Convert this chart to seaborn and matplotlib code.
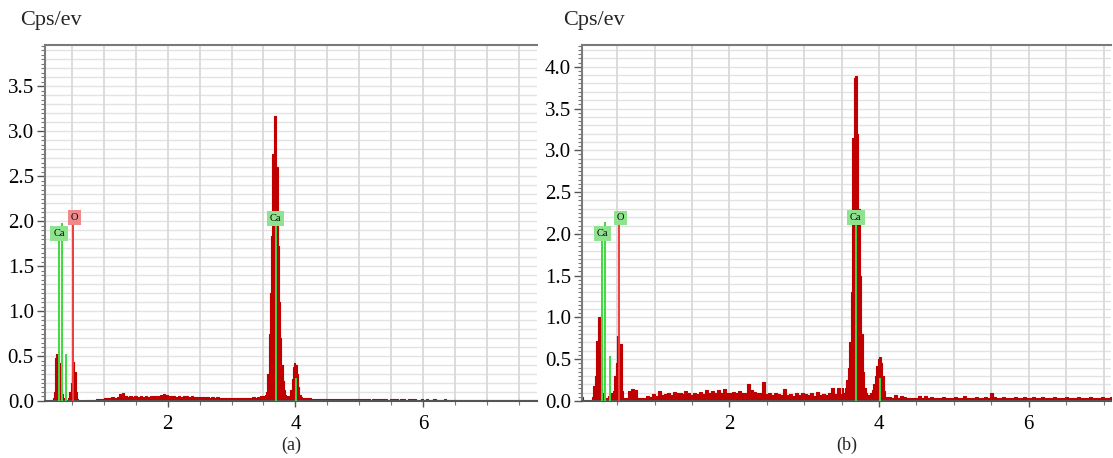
import numpy as np
import pandas as pd
import matplotlib
matplotlib.use("Agg")
import matplotlib.pyplot as plt
import seaborn as sns
from matplotlib.ticker import MultipleLocator, FormatStrFormatter

# ---------------- data: EDS spectra, counts per eV in segments (start keV, bin width keV, values)
# panel (a)
a_seg1_start, a_seg1_step = 0.08, 0.02
a_seg1 = [0.0, 0.0, 0.0, 0.0, 0.0, 0.01, 0.03, 0.10, 0.48, 0.52, 0.50, 0.42, 0.12,
          0.08, 0.03, 0.0, 0.0, 0.01, 0.03, 0.10, 0.20, 0.28, 0.43, 0.32, 0.10, 0.02]
a_seg2_start, a_seg2_step = 0.60, 0.04
a_seg2 = [0.0, 0.0, 0.005, 0.008, 0.01, 0.012, 0.015, 0.02, 0.022, 0.025,
          0.03, 0.035, 0.03, 0.04, 0.035, 0.045, 0.08, 0.09, 0.06, 0.045,
          0.05, 0.04, 0.05, 0.045, 0.05, 0.045, 0.05, 0.04, 0.05, 0.055,
          0.05, 0.06, 0.065, 0.075, 0.07, 0.055, 0.05, 0.05, 0.045, 0.05,
          0.045, 0.05, 0.055, 0.045, 0.05, 0.045, 0.04, 0.045, 0.04, 0.045,
          0.04, 0.035, 0.04, 0.035, 0.04, 0.035, 0.03, 0.035, 0.03, 0.035,
          0.03, 0.035, 0.03, 0.035, 0.03, 0.035, 0.03, 0.035, 0.04, 0.035,
          0.04, 0.05]
a_seg3_start, a_seg3_step = 3.48, 0.02
a_seg3 = [0.05, 0.06, 0.07, 0.10, 0.30, 0.75, 1.20, 1.83, 2.75, 3.17, 3.17, 2.60,
          1.72, 1.10, 0.70, 0.40, 0.22, 0.12, 0.07, 0.05, 0.04, 0.06, 0.12, 0.25,
          0.38, 0.42, 0.40, 0.30, 0.15, 0.07, 0.04, 0.035]
a_seg4_start, a_seg4_step = 4.12, 0.04
a_seg4 = [0.03, 0.028, 0.03, 0.025, 0.022, 0.025, 0.02, 0.022, 0.02, 0.018,
          0.02, 0.018, 0.02, 0.022, 0.018, 0.02, 0.017, 0.02, 0.018, 0.02,
          0.022, 0.018, 0.02, 0.017, 0.02, 0.018, 0.016, 0.02, 0.018, 0.017,
          0.02, 0.017, 0.018, 0.016, 0.02, 0.018, 0.017, 0.016, 0.018, 0.017,
          0.016, 0.018, 0.02, 0.017, 0.016, 0.015, 0.017, 0.016, 0.018, 0.016,
          0.015, 0.017, 0.016, 0.015, 0.016, 0.017, 0.015, 0.016, 0.015, 0.016,
          0.015, 0.016, 0.014, 0.016, 0.015, 0.014, 0.016, 0.015, 0.014, 0.015,
          0.014, 0.015, 0.016, 0.014, 0.015, 0.014, 0.015, 0.014, 0.016, 0.015,
          0.014, 0.015, 0.014, 0.015, 0.014, 0.016, 0.015, 0.014, 0.015, 0.014,
          0.015, 0.014]

# panel (b)
b_seg1_start, b_seg1_step = 0.00, 0.02
b_seg1 = [0.06, 0.05, 0.0, 0.0, 0.0, 0.0, 0.0, 0.0, 0.05, 0.18, 0.30, 0.72, 1.0, 1.0,
          0.68, 0.10, 0.05, 0.03, 0.02, 0.06, 0.03, 0.10, 0.12, 0.30, 0.45, 0.78,
          0.68, 0.68, 0.12, 0.03]
b_seg2_start, b_seg2_step = 0.60, 0.04
b_seg2 = [0.03, 0.12, 0.14, 0.13, 0.03, 0.04, 0.03, 0.06, 0.05, 0.08,
          0.06, 0.12, 0.07, 0.08, 0.10, 0.07, 0.11, 0.09, 0.10, 0.08,
          0.12, 0.10, 0.07, 0.10, 0.08, 0.11, 0.08, 0.13, 0.10, 0.12,
          0.09, 0.13, 0.10, 0.14, 0.10, 0.09, 0.11, 0.10, 0.12, 0.09,
          0.10, 0.20, 0.13, 0.11, 0.10, 0.09, 0.23, 0.08, 0.09, 0.07,
          0.10, 0.08, 0.07, 0.14, 0.07, 0.08, 0.06, 0.09, 0.07, 0.10,
          0.08, 0.07, 0.09, 0.06, 0.11, 0.07, 0.08, 0.07, 0.09, 0.15,
          0.08, 0.15]
b_seg3_start, b_seg3_step = 3.48, 0.02
b_seg3 = [0.08, 0.15, 0.09, 0.15, 0.25, 0.40, 0.70, 1.30, 3.15, 3.87, 3.89, 3.20,
          2.30, 1.50, 0.80, 0.35, 0.15, 0.09, 0.07, 0.06, 0.10, 0.13, 0.20, 0.30,
          0.42, 0.50, 0.53, 0.45, 0.30, 0.12, 0.05, 0.05]
b_seg4_start, b_seg4_step = 4.12, 0.04
b_seg4 = [0.05, 0.04, 0.07, 0.04, 0.06, 0.05, 0.03, 0.04, 0.03, 0.03,
          0.06, 0.04, 0.06, 0.03, 0.05, 0.04, 0.03, 0.04, 0.05, 0.03,
          0.04, 0.03, 0.05, 0.03, 0.04, 0.06, 0.03, 0.04, 0.03, 0.05,
          0.03, 0.04, 0.05, 0.04, 0.10, 0.05, 0.04, 0.03, 0.05, 0.04,
          0.04, 0.03, 0.05, 0.03, 0.04, 0.05, 0.04, 0.03, 0.05, 0.04,
          0.03, 0.05, 0.04, 0.03, 0.04, 0.05, 0.03, 0.04, 0.03, 0.05,
          0.04, 0.03, 0.04, 0.05, 0.03, 0.04, 0.03, 0.05, 0.04, 0.03,
          0.04, 0.05, 0.03, 0.04, 0.05]

# element marker lines: (energy keV, height, colour key)
a_lines_x = [0.30, 0.34, 0.41, 0.52, 3.69, 4.01]
a_lines_h = [1.82, 1.98, 0.52, 2.00, 1.98, 0.26]
a_lines_c = ["g", "g", "g", "r", "g", "g"]
b_lines_x = [0.30, 0.34, 0.40, 0.52, 3.69, 4.01]
b_lines_h = [1.94, 2.14, 0.54, 2.14, 2.14, 0.27]
b_lines_c = ["g", "g", "g", "r", "g", "g"]
# element tags: (text, x, y, colour key)
a_tags = [("Ca", 0.30, 1.86, "g"), ("O", 0.54, 2.04, "r"), ("Ca", 3.69, 2.03, "g")]
b_tags = [("Ca", 0.30, 2.00, "g"), ("O", 0.54, 2.19, "g"), ("Ca", 3.69, 2.20, "g")]

a_xlim, a_ylim = (0.08, 7.78), (0.0, 3.96)
b_xlim, b_ylim = (0.03, 7.10), (0.0, 4.26)
xticks = [2, 4, 6]
ylabel_text = "Cps/ev"

# ---------------- styling
sns.set_theme(style="white")
plt.rcParams["font.family"] = ["Liberation Serif", "DejaVu Serif"]

RED = "#c00000"
LINE_G = "#3ddc3d"
LINE_R = "#f03c3c"
TAG_G = "#8fe38f"
TAG_R = "#f08a8a"


def build(segments):
    xs, ws = [], []
    for start, step, vals in segments:
        for i, v in enumerate(vals):
            xs.append(round(start + i * step, 4))
            ws.append(v)
    edges = xs + [round(segments[-1][0] + len(segments[-1][2]) * segments[-1][1], 4)]
    return pd.DataFrame({"energy": xs, "cps": ws}), edges


df_a, edges_a = build([(a_seg1_start, a_seg1_step, a_seg1), (a_seg2_start, a_seg2_step, a_seg2),
                       (a_seg3_start, a_seg3_step, a_seg3), (a_seg4_start, a_seg4_step, a_seg4)])
df_b, edges_b = build([(b_seg1_start, b_seg1_step, b_seg1), (b_seg2_start, b_seg2_step, b_seg2),
                       (b_seg3_start, b_seg3_step, b_seg3), (b_seg4_start, b_seg4_step, b_seg4)])

fig = plt.figure(figsize=(11.13, 4.58), dpi=100)
ax_a = fig.add_axes([0.0404, 0.1245, 0.442, 0.7772])
ax_b = fig.add_axes([0.5229, 0.1245, 0.4753, 0.7772])


def draw(ax, df, edges, xlim, ylim, lx, lh, lc, tags, panel_label, ylab_x):
    ax.set_axisbelow(True)
    ax.hlines(np.arange(0.1, ylim[1], 0.1), xlim[0], xlim[1], color="#e3e3e3", lw=1.0, zorder=0)
    sns.histplot(data=df, x="energy", weights="cps", bins=edges, element="step", fill=True,
                 color=RED, alpha=1.0, linewidth=0.8, edgecolor=RED, ax=ax, zorder=2)
    for x, h, c in zip(lx, lh, lc):
        ax.vlines(x, 0, h, color=LINE_G if c == "g" else LINE_R, lw=1.4, zorder=4)
    for s, x, y, c in tags:
        ax.text(x, y, s, ha="center", va="center", fontsize=7.5, color="black", zorder=6,
                bbox=dict(boxstyle="square,pad=0.28", fc=TAG_G if c == "g" else TAG_R, ec="none"))
    ax.set_xlim(*xlim)
    ax.set_ylim(*ylim)
    ax.set_xticks(xticks)
    ax.xaxis.set_minor_locator(MultipleLocator(0.5))
    ax.yaxis.set_major_locator(MultipleLocator(0.5))
    ax.yaxis.set_minor_locator(MultipleLocator(0.05))
    ax.yaxis.set_major_formatter(FormatStrFormatter("%.1f"))
    ax.grid(axis="x", which="both", color="#d9d9d9", lw=1.3)
    ax.tick_params(axis="both", which="major", labelsize=15, colors="#555555", labelcolor="black")
    ax.tick_params(axis="y", which="major", length=6, width=1, left=True, pad=2)
    ax.tick_params(axis="y", which="minor", length=3, width=0.8, left=True, colors="#777777")
    ax.tick_params(axis="x", which="major", length=4, width=1, bottom=True, pad=6)
    ax.tick_params(axis="x", which="minor", length=3, width=0.8, bottom=True, colors="#777777")
    ax.set_xlabel("")
    ax.set_ylabel("")
    for side in ["left", "top", "bottom"]:
        ax.spines[side].set_visible(True)
        ax.spines[side].set_color("#7a7a7a")
        ax.spines[side].set_linewidth(1.5)
    ax.spines["bottom"].set_color("#555555")
    ax.spines["right"].set_visible(False)
    pos = ax.get_position()
    fig.text(ylab_x, 0.955, ylabel_text, fontsize=16, ha="left", va="center")
    fig.text(pos.x0 + pos.width / 2, 0.028, panel_label, fontsize=13, ha="center", va="center")


draw(ax_a, df_a, edges_a, a_xlim, a_ylim, a_lines_x, a_lines_h, a_lines_c, a_tags, "(a)", 0.018)
draw(ax_b, df_b, edges_b, b_xlim, b_ylim, b_lines_x, b_lines_h, b_lines_c, b_tags, "(b)", 0.506)

fig.savefig("out.png", dpi=100)
